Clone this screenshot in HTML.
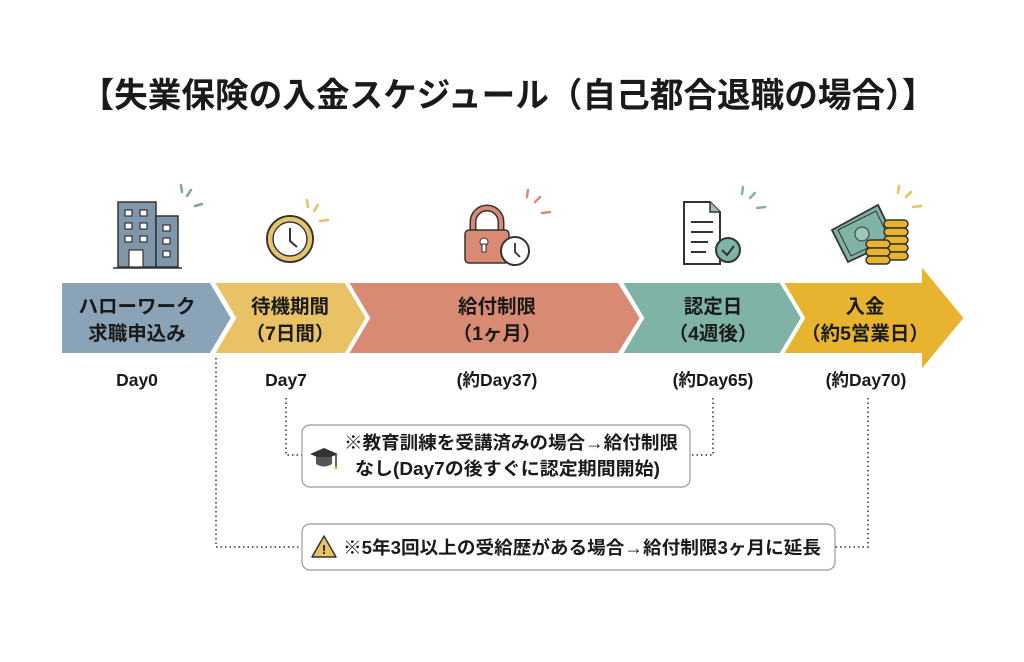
<!DOCTYPE html>
<html><head><meta charset="utf-8"><style>
body{margin:0;background:#fff;}
svg text{font-family:"Liberation Sans","Noto Sans CJK JP",sans-serif;font-weight:bold;fill:#1a1a1a;}
</style></head><body>
<svg width="1024" height="657" viewBox="0 0 1024 657" xmlns="http://www.w3.org/2000/svg">
<rect width="1024" height="657" fill="#fff"/>
<text x="508" y="107" font-size="34" text-anchor="middle" textLength="855" lengthAdjust="spacingAndGlyphs">【失業保険の入金スケジュール（自己都合退職の場合）】</text>

<g stroke="#fff" stroke-width="4" stroke-linejoin="miter">
<polygon points="60,281 211,281 233,318 211,355 60,355" fill="#8ba3b6"/>
<polygon points="212,281 346,281 368,318 346,355 212,355 234,318" fill="#e8c264"/>
<polygon points="346,281 619,281 642,318 619,355 346,355 368,318" fill="#d98a73"/>
<polygon points="620,281 781,281 804,318 781,355 620,355 642,318" fill="#7fb3a5"/>
<polygon points="781,281 920,281 920,262 966,318 920,374 920,355 781,355 803,318" fill="#e8b42f"/>
</g>
<g font-size="19.5" text-anchor="middle">
<text x="137" y="313">ハローワーク</text><text x="137" y="340">求職申込み</text>
<text x="290" y="313">待機期間</text><text x="290" y="340">（7日間）</text>
<text x="497" y="313">給付制限</text><text x="497" y="340">（1ヶ月）</text>
<text x="713" y="313">認定日</text><text x="713" y="340">（4週後）</text>
<text x="865" y="313">入金</text><text x="865" y="340">（約5営業日）</text>
</g>
<g font-size="17.5" text-anchor="middle">
<text x="137" y="386">Day0</text>
<text x="286" y="386">Day7</text>
<text x="497" y="386">(約Day37)</text>
<text x="713" y="386">(約Day65)</text>
<text x="866" y="386">(約Day70)</text>
</g>

<g fill="none" stroke="#666" stroke-width="2" stroke-dasharray="1.5,3">
<polyline points="216,358 216,547 300,547"/>
<polyline points="286,398 286,455 302,455"/>
<polyline points="713,398 713,455 690,455"/>
<polyline points="868,398 868,547 835,547"/>
</g>
<rect x="302" y="425" width="388" height="62" rx="8" fill="#fff" stroke="#999" stroke-width="1.2"/>
<rect x="302" y="524" width="533" height="46" rx="8" fill="#fff" stroke="#999" stroke-width="1.2"/>
<g font-size="18">
<text x="344" y="449" textLength="334" lengthAdjust="spacingAndGlyphs">※教育訓練を受講済みの場合→給付制限</text>
<text x="355" y="475" textLength="305" lengthAdjust="spacingAndGlyphs">なし(Day7の後すぐに認定期間開始)</text>
<text x="343" y="554" textLength="478" lengthAdjust="spacingAndGlyphs">※5年3回以上の受給歴がある場合→給付制限3ヶ月に延長</text>
</g>
<g transform="translate(324,457)">
<polygon points="-14,-3 0,-9 14,-3 0,3" fill="#333"/>
<path d="M-8,0 v7 q8,5 16,0 v-7 z" fill="#555"/>
<line x1="12" y1="-2" x2="12" y2="10" stroke="#333" stroke-width="1.5"/>
<circle cx="12" cy="11" r="1.5" fill="#e8b42f"/>
</g>
<g transform="translate(324,547)">
<polygon points="0,-11 12,10 -12,10" fill="#e8c264" stroke="#333" stroke-width="1.5" stroke-linejoin="round"/>
<text x="0" y="7" font-size="13" text-anchor="middle">!</text>
</g>

<g stroke="#333" stroke-width="1.5">
<rect x="118" y="202" width="38" height="65" fill="#7f97aa"/>
<rect x="156" y="216" width="22" height="51" fill="#7f97aa"/>
<g fill="#fff" stroke-width="1.2">
<rect x="125" y="210" width="7" height="6"/><rect x="140" y="210" width="7" height="6"/>
<rect x="125" y="223" width="7" height="6"/><rect x="140" y="223" width="7" height="6"/>
<rect x="125" y="236" width="7" height="6"/><rect x="140" y="236" width="7" height="6"/>
<rect x="163" y="225" width="7" height="6"/><rect x="163" y="238" width="7" height="6"/><rect x="163" y="251" width="7" height="6"/>
<rect x="129" y="250" width="14" height="17"/>
</g>
<line x1="113" y1="268" x2="182" y2="268"/>
</g>
<g stroke="#7fa3a8" stroke-width="2.5" stroke-linecap="round">
<line x1="181" y1="185" x2="182" y2="192"/><line x1="191" y1="190" x2="187" y2="196"/><line x1="195" y1="206" x2="202" y2="204"/>
</g>
<circle cx="290" cy="239" r="23" fill="#fff" stroke="#333" stroke-width="2"/>
<circle cx="290" cy="239" r="20" fill="#fff" stroke="#e8c264" stroke-width="4"/>
<circle cx="290" cy="239" r="17" fill="#fff" stroke="#333" stroke-width="1.5"/>
<polyline points="290,228 290,241 297,247" fill="none" stroke="#333" stroke-width="2"/>
<g stroke="#e8c264" stroke-width="2.5" stroke-linecap="round">
<line x1="307" y1="200" x2="308" y2="207"/><line x1="318" y1="205" x2="314" y2="211"/><line x1="320" y1="221" x2="328" y2="220"/>
</g>
<path d="M473,232 v-10 a14,14 0 0 1 28,0 v10" fill="none" stroke="#333" stroke-width="7"/>
<path d="M473,232 v-10 a14,14 0 0 1 28,0 v10" fill="none" stroke="#d98a73" stroke-width="4"/>
<rect x="465" y="230" width="44" height="33" rx="4" fill="#d98a73" stroke="#333" stroke-width="1.5"/>
<circle cx="484" cy="242" r="4" fill="#fff" stroke="#333"/><rect x="482" y="244" width="4" height="8" fill="#fff" stroke="#333"/>
<circle cx="515" cy="251" r="14" fill="#fff" stroke="#333" stroke-width="2"/>
<polyline points="515,243 515,252 520,257" fill="none" stroke="#333" stroke-width="1.8"/>
<g stroke="#d98a73" stroke-width="2.5" stroke-linecap="round">
<line x1="528" y1="190" x2="527" y2="197"/><line x1="540" y1="197" x2="535" y2="202"/><line x1="542" y1="213" x2="550" y2="212"/>
</g>
<path d="M684,202 h26 l10,10 v52 h-36 z" fill="#fff" stroke="#333" stroke-width="2"/>
<path d="M710,202 v10 h10" fill="#9fbfb5" stroke="#333" stroke-width="1.5"/>
<g stroke="#333" stroke-width="2"><line x1="691" y1="222" x2="713" y2="222"/><line x1="691" y1="232" x2="713" y2="232"/><line x1="691" y1="242" x2="708" y2="242"/><line x1="691" y1="252" x2="706" y2="252"/></g>
<circle cx="728" cy="250" r="12" fill="#7fb3a5" stroke="#333" stroke-width="2"/>
<polyline points="722,250 727,255 734,246" fill="none" stroke="#333" stroke-width="2"/>
<g stroke="#7fb3a5" stroke-width="2.5" stroke-linecap="round">
<line x1="743" y1="187" x2="742" y2="194"/><line x1="755" y1="193" x2="750" y2="198"/><line x1="757" y1="208" x2="765" y2="207"/>
</g>
<polygon points="832,230 878,205 895,240 848,262" fill="#7fb3a5" stroke="#333" stroke-width="1.8"/>
<polygon points="838,230 876,211 889,238 851,256" fill="none" stroke="#333" stroke-width="1"/>
<circle cx="862" cy="234" r="7" fill="#9fc4b8" stroke="#333"/>
<g fill="#e8b42f" stroke="#333" stroke-width="1.5">
<rect x="884" y="220" width="24" height="8" rx="4"/><rect x="884" y="228" width="24" height="8" rx="4"/><rect x="884" y="236" width="24" height="8" rx="4"/><rect x="884" y="244" width="24" height="8" rx="4"/><rect x="884" y="252" width="24" height="8" rx="4"/>
<rect x="866" y="240" width="24" height="8" rx="4"/><rect x="866" y="248" width="24" height="8" rx="4"/><rect x="866" y="256" width="24" height="8" rx="4"/>
</g>
<g stroke="#e8c264" stroke-width="2.5" stroke-linecap="round">
<line x1="899" y1="186" x2="898" y2="193"/><line x1="911" y1="192" x2="906" y2="197"/><line x1="913" y1="207" x2="921" y2="206"/>
</g>
</svg>
</body></html>
